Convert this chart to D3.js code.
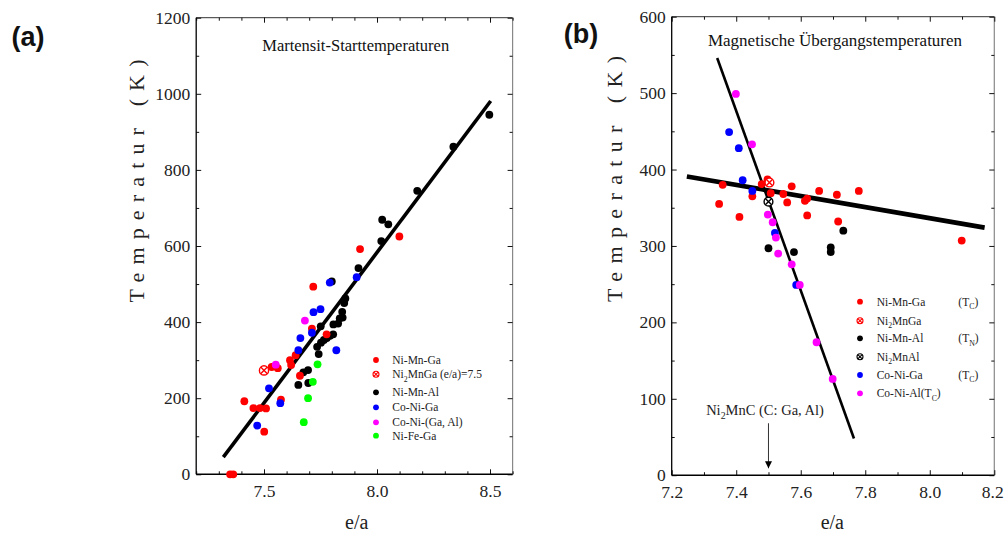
<!DOCTYPE html>
<html><head><meta charset="utf-8">
<script src="https://cdn.jsdelivr.net/npm/d3@7"></script>
<style>body{margin:0;background:#fff}svg{display:block}</style>
</head><body>
<svg id="c" width="1004" height="533"></svg>
<script>
// ---------- DATA ----------
// Panel (a): Martensit-Starttemperaturen  [e/a, T(K)]
const a_NiMnGa = [[7.350,0],[7.364,0],[7.413,192],[7.453,174],[7.482,174],[7.509,173],[7.501,112],[7.575,196],[7.534,282],[7.561,279],[7.615,300],[7.620,287],[7.640,313],[7.659,259],[7.712,383],[7.718,493],[7.777,368],[7.925,592],[8.099,625]];
const a_Ni2MnGa = [[7.500,273]];
const a_NiMnAl = [[7.652,235],[7.674,268],[7.695,274],[7.696,240],[7.735,335],[7.742,316],[7.751,389],[7.752,346],[7.765,353],[7.778,358],[7.792,364],[7.806,368],[7.800,507],[7.807,394],[7.828,396],[7.835,410],[7.846,427],[7.848,412],[7.855,450],[7.860,462],[7.918,542],[8.019,613],[8.023,669],[8.050,657],[8.178,745],[8.338,861],[8.497,945]];
const a_CoNiGa = [[7.470,128],[7.522,226],[7.572,187],[7.652,326],[7.661,358],[7.712,372],[7.719,426],[7.750,434],[7.791,504],[7.820,326],[7.910,518]];
const a_CoNiGaAl = [[7.552,288],[7.681,404]];
const a_NiFeGa = [[7.676,137],[7.695,200],[7.716,243],[7.737,289]];
const a_fit = [[7.320,45],[8.503,981]];
const a_xTicks = [7.5,8.0,8.5];
const a_yTicks = [0,200,400,600,800,1000,1200];

// Panel (b): Magnetische Übergangstemperaturen
const b_NiMnGa = [[7.347,355],[7.358,380],[7.410,338],[7.450,365],[7.479,381],[7.497,387],[7.507,369],[7.546,368],[7.558,357],[7.572,378],[7.613,359],[7.620,362],[7.620,340],[7.657,372],[7.712,367],[7.716,332],[7.780,372],[8.099,307]];
const b_Ni2MnGa = [[7.503,383]];
const b_NiMnAl = [[7.500,297],[7.579,292],[7.693,298],[7.693,292],[7.732,320]];
const b_Ni2MnAl = [[7.500,358]];
const b_CoNiGa = [[7.378,449],[7.408,428],[7.420,386],[7.450,372],[7.520,317],[7.586,249]];
const b_CoNiAl = [[7.399,499],[7.449,433],[7.498,341],[7.513,331],[7.523,311],[7.530,290],[7.572,276],[7.597,249],[7.649,174],[7.699,126]];
const b_fitFlat = [[7.247,391],[8.170,324]];
const b_fitSteep = [[7.341,546],[7.765,48]];
const b_arrow = [[7.5,68],[7.5,9]];
const b_xTicks = [7.2,7.4,7.6,7.8,8.0,8.2];
const b_yTicks = [0,100,200,300,400,500,600];

// Legends
const a_legend = [
  {name:["Ni-Mn-Ga"], color:"#ff0000", cross:false},
  {name:["Ni","2","MnGa (e/a)=7.5"], color:"#ff0000", cross:true},
  {name:["Ni-Mn-Al"], color:"#000000", cross:false},
  {name:["Co-Ni-Ga"], color:"#0000ff", cross:false},
  {name:["Co-Ni-(Ga, Al)"], color:"#ff00ff", cross:false},
  {name:["Ni-Fe-Ga"], color:"#00ff00", cross:false}
];
const b_legend = [
  {name:["Ni-Mn-Ga"], t:"C", color:"#ff0000", cross:false},
  {name:["Ni","2","MnGa"], t:null, color:"#ff0000", cross:true},
  {name:["Ni-Mn-Al"], t:"N", color:"#000000", cross:false},
  {name:["Ni","2","MnAl"], t:null, color:"#000000", cross:true},
  {name:["Co-Ni-Ga"], t:"C", color:"#0000ff", cross:false},
  {name:["Co-Ni-Al(T","C",")"], t:null, color:"#ff00ff", cross:false}
];

// ---------- DRAWING ----------
const svg = d3.select("#c");
const SERIF = "'Liberation Serif','Times New Roman',serif";
const SANS = "'Liberation Sans',Arial,sans-serif";

function range(a,b,s){const r=[];for(let v=a;v<=b+1e-9;v+=s)r.push(+v.toFixed(4));return r;}

function panel(cfg){
  const g = svg.append("g");
  const x = d3.scaleLinear().domain(cfg.xd).range(cfg.xr);
  const y = d3.scaleLinear().domain(cfg.yd).range(cfg.yr);
  const [x0,x1]=cfg.xr,[y0,y1]=cfg.yr;
  g.append("line").attr("x1",x0).attr("x2",x1).attr("y1",y1).attr("y2",y1).attr("stroke","#333").attr("stroke-width",1);
  g.append("line").attr("x1",x1).attr("x2",x1).attr("y1",y0).attr("y2",y1).attr("stroke","#888").attr("stroke-width",1.2);
  const fmtNone = ()=>"";
  const styleAx = s=>{s.select(".domain").remove();s.selectAll("line").attr("stroke","#111");};
  g.append("g").attr("transform",`translate(0,${y0})`).call(d3.axisBottom(x).tickValues(cfg.xMinor).tickSize(-3).tickFormat(fmtNone)).call(styleAx);
  g.append("g").attr("transform",`translate(${x0},0)`).call(d3.axisLeft(y).tickValues(cfg.yMinor).tickSize(-3).tickFormat(fmtNone)).call(styleAx);
  g.append("g").attr("transform",`translate(${x1},0)`).call(d3.axisRight(y).tickValues(cfg.yMinor).tickSize(-3).tickFormat(fmtNone)).call(styleAx);
  g.append("g").attr("transform",`translate(0,${y1})`).call(d3.axisTop(x).tickValues(cfg.xMinor).tickSize(-3).tickFormat(fmtNone)).call(styleAx);
  const lab = s=>{s.select(".domain").remove();s.selectAll("line").attr("stroke","#111");s.selectAll("text").attr("font-family",SERIF).attr("font-size","17.5px").attr("fill","#222");};
  const xa = g.append("g").attr("transform",`translate(0,${y0})`).call(d3.axisBottom(x).tickValues(cfg.xTicks).tickSize(-5).tickPadding(10).tickFormat(d3.format(".1f"))).call(lab);
  if(cfg.lastShift) xa.selectAll("text").filter((d,i,n)=>i===n.length-1).attr("dx",cfg.lastShift);
  g.append("g").attr("transform",`translate(${x0},0)`).call(d3.axisLeft(y).tickValues(cfg.yTicks).tickSize(-5).tickPadding(6).tickFormat(d3.format("d"))).call(lab);
  g.append("g").attr("transform",`translate(${x1},0)`).call(d3.axisRight(y).tickValues(cfg.yTicks).tickSize(-5).tickFormat(fmtNone)).call(styleAx);
  g.append("g").attr("transform",`translate(0,${y1})`).call(d3.axisTop(x).tickValues(cfg.xTicks).tickSize(-5).tickFormat(fmtNone)).call(styleAx);
  g.append("line").attr("x1",x0).attr("x2",x1).attr("y1",y0).attr("y2",y0).attr("stroke","#000").attr("stroke-width",1.6);
  g.append("line").attr("x1",x0).attr("x2",x0).attr("y1",y0).attr("y2",y1).attr("stroke","#000").attr("stroke-width",1.3);
  return {g,x,y};
}

function dots(p, data, color, r){
  p.g.append("g").selectAll("circle").data(data).join("circle")
    .attr("cx",d=>p.x(d[0])).attr("cy",d=>p.y(d[1])).attr("r",r).attr("fill",color);
}
function crossMark(g, cx, cy, r, color, sw){
  g.append("circle").attr("cx",cx).attr("cy",cy).attr("r",r).attr("fill","#fff").attr("stroke",color).attr("stroke-width",sw);
  const k=r*0.72;
  g.append("path").attr("d",`M${cx-k},${cy-k}L${cx+k},${cy+k}M${cx-k},${cy+k}L${cx+k},${cy-k}`).attr("stroke",color).attr("stroke-width",sw);
}
function crosses(p, data, color, r){
  data.forEach(d=>crossMark(p.g, p.x(d[0]), p.y(d[1]), r, color, 1.4));
}
function fitLine(p, data, w){
  p.g.append("path").datum(data).attr("d",d3.line().x(d=>p.x(d[0])).y(d=>p.y(d[1])))
    .attr("stroke","#000").attr("stroke-width",w).attr("fill","none");
}
function richText(g, parts, x, y, size, anchor){
  const t = g.append("text").attr("x",x).attr("y",y).attr("font-family",SERIF).attr("font-size",size+"px").attr("fill","#222").attr("text-anchor",anchor||"start");
  parts.forEach((s,i)=>{
    if(i%2===0) t.append("tspan").attr("dy", i===0?0:-size*0.3).attr("font-size",size+"px").text(s);
    else t.append("tspan").attr("dy", size*0.3).attr("font-size",(size*0.68)+"px").text(s);
  });
  return t;
}

// ----- Panel (a)
const pa = panel({xd:[7.2,8.6], xr:[196.2,512.6], yd:[0,1200], yr:[474.3,17.7],
  xTicks:a_xTicks, yTicks:a_yTicks, xMinor:range(7.2,8.6,0.1), yMinor:range(100,1100,200)});
fitLine(pa, a_fit, 3.6);
dots(pa, a_NiMnAl, "#000000", 3.9);
dots(pa, a_NiMnGa, "#ff0000", 3.9);
dots(pa, a_CoNiGa, "#0000ff", 3.9);
dots(pa, a_CoNiGaAl, "#ff00ff", 3.9);
dots(pa, a_NiFeGa, "#00ff00", 3.9);
crosses(pa, a_Ni2MnGa, "#ff0000", 4.6);

svg.append("text").attr("x",355.7).attr("y",51).attr("text-anchor","middle").attr("font-family",SERIF).attr("font-size","16.5px").attr("fill","#111").text("Martensit-Starttemperaturen");
svg.append("text").attr("x",28).attr("y",46).attr("text-anchor","middle").attr("font-family",SANS).attr("font-weight","bold").attr("font-size","27px").attr("fill","#111").text("(a)");
svg.append("text").attr("transform","translate(144,181) rotate(-90)").attr("text-anchor","middle").attr("font-family",SERIF).attr("font-size","22px").attr("fill","#222")
  .attr("textLength",243).attr("lengthAdjust","spacing").text("Temperatur (K)");
svg.append("text").attr("x",356.7).attr("y",529).attr("text-anchor","middle").attr("font-family",SERIF).attr("font-size","20px").attr("fill","#222").text("e/a");

const aRows=[360,374.3,392.3,407.3,422.3,435.7];
a_legend.forEach((L,i)=>{
  const yy=aRows[i];
  if(L.cross) crossMark(svg, 376, yy, 3, L.color, 1.1);
  else svg.append("circle").attr("cx",376).attr("cy",yy).attr("r",2.9).attr("fill",L.color);
  richText(svg, L.name, 392.3, yy+4, 11.5);
});

// ----- Panel (b)
const pb = panel({xd:[7.2,8.2], xr:[671.7,994.3], yd:[0,600], yr:[475.2,16.7],
  xTicks:b_xTicks, yTicks:b_yTicks, xMinor:range(7.3,8.1,0.2), yMinor:range(50,550,100), lastShift:-2});
fitLine(pb, b_fitFlat, 4.6);
fitLine(pb, b_fitSteep, 2.6);
dots(pb, b_NiMnGa, "#ff0000", 3.9);
dots(pb, b_NiMnAl, "#000000", 3.9);
dots(pb, b_CoNiGa, "#0000ff", 3.9);
dots(pb, b_CoNiAl, "#ff00ff", 3.9);
crosses(pb, b_Ni2MnGa, "#ff0000", 4.4);
crosses(pb, b_Ni2MnAl, "#000000", 4.4);

svg.append("defs").append("marker").attr("id","ah").attr("viewBox","0 0 10 10").attr("refX",10).attr("refY",5)
  .attr("markerWidth",7).attr("markerHeight",9).attr("markerUnits","userSpaceOnUse").attr("orient","auto")
  .append("path").attr("d","M0,0L10,5L0,10Z").attr("fill","#000");
pb.g.append("line").attr("x1",pb.x(b_arrow[0][0])).attr("y1",pb.y(b_arrow[0][1])).attr("x2",pb.x(b_arrow[1][0])).attr("y2",pb.y(b_arrow[1][1]))
  .attr("stroke","#333").attr("stroke-width",1).attr("marker-end","url(#ah)");
richText(svg, ["Ni","2","MnC (C: Ga, Al)"], 765, 415, 14.5, "middle");

svg.append("text").attr("x",835).attr("y",46).attr("text-anchor","middle").attr("font-family",SERIF).attr("font-size","17px").attr("fill","#111").text("Magnetische Übergangstemperaturen");
svg.append("text").attr("x",581).attr("y",43).attr("text-anchor","middle").attr("font-family",SANS).attr("font-weight","bold").attr("font-size","27px").attr("fill","#111").text("(b)");
svg.append("text").attr("transform","translate(622,179) rotate(-90)").attr("text-anchor","middle").attr("font-family",SERIF).attr("font-size","22px").attr("fill","#222")
  .attr("textLength",246).attr("lengthAdjust","spacing").text("Temperatur (K)");
svg.append("text").attr("x",832.3).attr("y",529).attr("text-anchor","middle").attr("font-family",SERIF).attr("font-size","20px").attr("fill","#222").text("e/a");

const bRows=[301.7,320.7,338.3,356.7,375,393.3];
b_legend.forEach((L,i)=>{
  const yy=bRows[i];
  if(L.cross) crossMark(svg, 860, yy, 3, L.color, 1.1);
  else svg.append("circle").attr("cx",860).attr("cy",yy).attr("r",2.9).attr("fill",L.color);
  richText(svg, L.name, 876.7, yy+4, 11.5);
  if(L.t) richText(svg, ["(T",L.t,")"], 958.3, yy+4, 11.5);
});
</script>
</body></html>
